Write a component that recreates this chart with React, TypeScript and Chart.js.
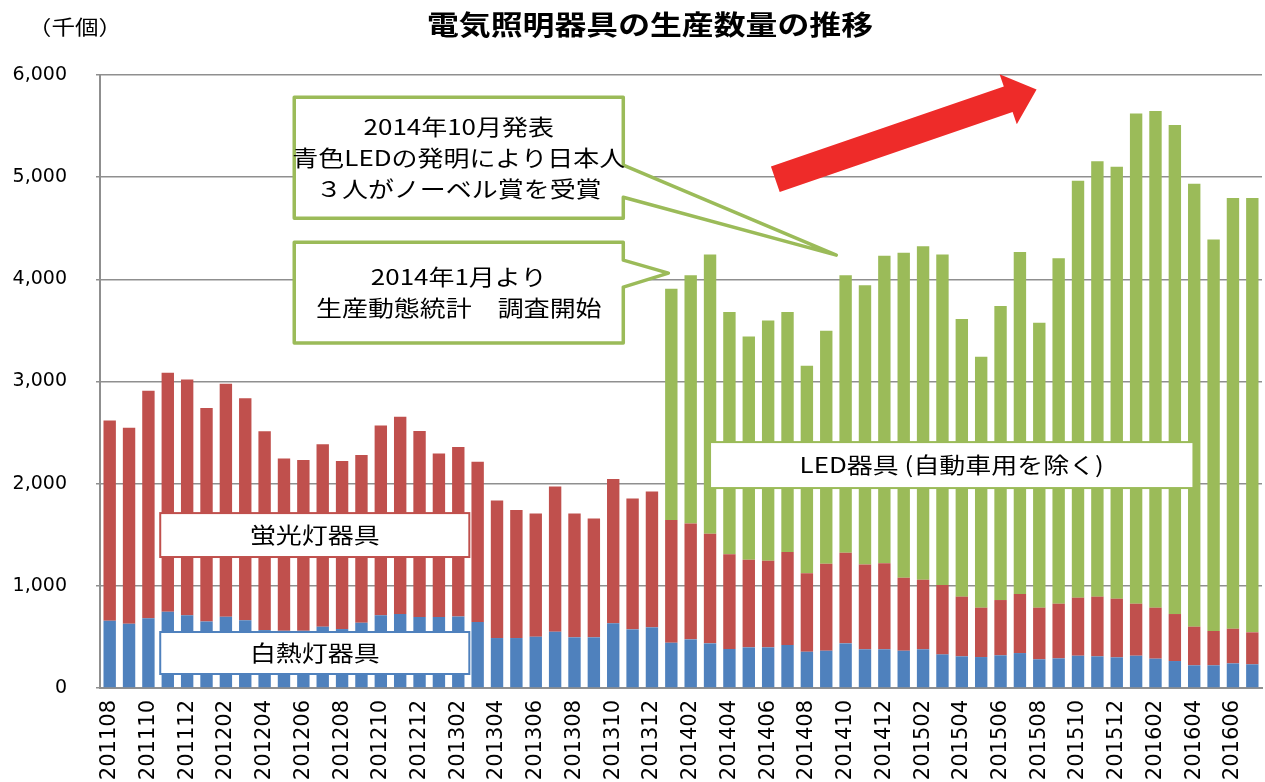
import React, { useEffect, useRef } from 'react';
import { Chart, registerables } from 'chart.js';

Chart.register(...registerables);

// ---------- data ----------
const months = [
  '201108', '201109', '201110', '201111', '201112',
  '201201', '201202', '201203', '201204', '201205', '201206', '201207', '201208', '201209', '201210', '201211', '201212',
  '201301', '201302', '201303', '201304', '201305', '201306', '201307', '201308', '201309', '201310', '201311', '201312',
  '201401', '201402', '201403', '201404', '201405', '201406', '201407', '201408', '201409', '201410', '201411', '201412',
  '201501', '201502', '201503', '201504', '201505', '201506', '201507', '201508', '201509', '201510', '201511', '201512',
  '201601', '201602', '201603', '201604', '201605', '201606', '201607',
];

// 白熱灯器具 (thousand units)
const incandescent = [
  658, 629, 682, 747, 711,
  652, 698, 662, 567, 560, 560, 600, 577, 639, 711, 724, 695,
  695, 701, 646, 489, 489, 502, 551, 496, 496, 633, 574, 594,
  443, 476, 437, 382, 398, 398, 421, 355, 365, 437, 379, 379,
  365, 379, 329, 310, 303, 320, 342, 281, 290, 316, 310, 300,
  316, 287, 264, 222, 222, 241, 232,
];

// 蛍光灯器具 (thousand units)
const fluorescent = [
  1961, 1918, 2227, 2338, 2309,
  2088, 2280, 2173, 1945, 1687, 1671, 1787, 1644, 1641, 1859, 1931, 1820,
  1601, 1657, 1568, 1347, 1253, 1207, 1422, 1213, 1164, 1412, 1282, 1330,
  1201, 1135, 1073, 926, 858, 848, 910, 767, 852, 887, 831, 841,
  715, 681, 679, 584, 483, 541, 578, 505, 535, 568, 584, 574,
  509, 499, 460, 378, 336, 339, 313,
];

// LED器具 (自動車用を除く) (thousand units) – survey starts 2014/01
const led = [
  null, null, null, null, null,
  null, null, null, null, null, null, null, null, null, null, null, null,
  null, null, null, null, null, null, null, null, null, null, null, null,
  2264, 2428, 2732, 2372, 2185, 2352, 2349, 2032, 2280, 2715, 2731, 3012,
  3181, 3264, 3234, 2717, 2456, 2878, 3348, 2789, 3381, 4080, 4263, 4227,
  4799, 4861, 4786, 4335, 3831, 4217, 4252,
];

const seriesNames = ['白熱灯器具', '蛍光灯器具', 'LED器具 (自動車用を除く)'];
const colors = ['#4F81BD', '#C0504D', '#9BBB59'];

const title = '電気照明器具の生産数量の推移';
const unitLabel = '（千個）';

// annotation geometry in data coordinates (x = category index, y = value)
const callouts = [
  {
    lines: ['2014年10月発表', '青色LEDの発明により日本人', '３人がノーベル賞を受賞'],
    x0: 9.53, x1: 26.52, yTop: 5783, yBot: 4599, notchTop: 5117, notchBot: 4804, tipX: 37.52, tipY: 4237,
  },
  {
    lines: ['2014年1月より', '生産動態統計　調査開始'],
    x0: 9.53, x1: 26.52, yTop: 4364, yBot: 3376, notchTop: 4188, notchBot: 3924, tipX: 28.85, tipY: 4061,
  },
];

const seriesBoxes = [
  { text: seriesNames[1], x0: 2.61, x1: 18.57, yTop: 1712, yBot: 1282, color: colors[1] },
  { text: seriesNames[0], x0: 2.61, x1: 18.57, yTop: 548, yBot: 137, color: colors[0] },
  { text: seriesNames[2], x0: 31.0, x1: 55.96, yTop: 2407, yBot: 1957, color: colors[2] },
];

const trendArrow = { x0: 34.37, y0: 4980, x1: 47.86, y1: 5858 };

const JP_FONT = '"Noto Sans CJK JP", "Noto Sans", sans-serif';
const STRETCH = 1.18;

function drawStretchedText(ctx: CanvasRenderingContext2D, text: string, x: number, y: number, font: string) {
  ctx.save();
  ctx.translate(x, y);
  ctx.scale(STRETCH, 1);
  ctx.font = font;
  ctx.fillStyle = '#000';
  ctx.textAlign = 'center';
  ctx.textBaseline = 'middle';
  ctx.fillText(text, 0, 0);
  ctx.restore();
}

const annotationPlugin = {
  id: 'annotations',
  afterDatasetsDraw(chart: any) {
    const ctx: CanvasRenderingContext2D = chart.ctx;
    const xs = chart.scales.x;
    const ys = chart.scales.y;
    const px = (v: number) => xs.getPixelForValue(v);
    const py = (v: number) => ys.getPixelForValue(v);

    // red trend arrow
    {
      const tx = px(trendArrow.x0), ty = py(trendArrow.y0);
      const hx = px(trendArrow.x1), hy = py(trendArrow.y1);
      const dx = hx - tx, dy = hy - ty;
      const len = Math.hypot(dx, dy);
      const ux = dx / len, uy = dy / len;
      const nx = -uy, ny = ux;
      const shaftW = 13.5, headW = 26.5, headL = 30;
      const bx = hx - ux * headL, by = hy - uy * headL;
      ctx.save();
      ctx.fillStyle = '#EE2B29';
      ctx.beginPath();
      ctx.moveTo(tx + nx * shaftW, ty + ny * shaftW);
      ctx.lineTo(bx + nx * shaftW, by + ny * shaftW);
      ctx.lineTo(bx + nx * headW, by + ny * headW);
      ctx.lineTo(hx, hy);
      ctx.lineTo(bx - nx * headW, by - ny * headW);
      ctx.lineTo(bx - nx * shaftW, by - ny * shaftW);
      ctx.lineTo(tx - nx * shaftW, ty - ny * shaftW);
      ctx.closePath();
      ctx.fill();
      ctx.restore();
    }

    // callouts
    callouts.forEach((c) => {
      const l = px(c.x0), r = px(c.x1), t = py(c.yTop), b = py(c.yBot);
      ctx.save();
      ctx.beginPath();
      ctx.moveTo(l, t);
      ctx.lineTo(r, t);
      ctx.lineTo(r, py(c.notchTop));
      ctx.lineTo(px(c.tipX), py(c.tipY));
      ctx.lineTo(r, py(c.notchBot));
      ctx.lineTo(r, b);
      ctx.lineTo(l, b);
      ctx.closePath();
      ctx.fillStyle = '#fff';
      ctx.fill();
      ctx.lineWidth = 3.5;
      ctx.lineJoin = 'round';
      ctx.strokeStyle = colors[2];
      ctx.stroke();
      ctx.restore();
      const cx = (l + r) / 2, cy = (t + b) / 2;
      const lh = 31;
      c.lines.forEach((line, i) => {
        const y = cy + (i - (c.lines.length - 1) / 2) * lh;
        drawStretchedText(ctx, line, cx, y, `22px ${JP_FONT}`);
      });
    });

    // series label boxes
    seriesBoxes.forEach((s) => {
      const l = px(s.x0), r = px(s.x1), t = py(s.yTop), b = py(s.yBot);
      ctx.save();
      ctx.fillStyle = '#fff';
      ctx.fillRect(l, t, r - l, b - t);
      ctx.lineWidth = 2;
      ctx.strokeStyle = s.color;
      ctx.strokeRect(l, t, r - l, b - t);
      ctx.restore();
      drawStretchedText(ctx, s.text, (l + r) / 2, (t + b) / 2, `22px ${JP_FONT}`);
    });
  },
  afterDraw(chart: any) {
    const ctx: CanvasRenderingContext2D = chart.ctx;
    const area = chart.chartArea;
    drawStretchedText(ctx, title, area.left + 550, 25, `bold 27px ${JP_FONT}`);
    drawStretchedText(ctx, unitLabel, area.left - 25, 27, `20px ${JP_FONT}`);
  },
};

export default function App() {
  const ref = useRef<HTMLCanvasElement | null>(null);

  useEffect(() => {
    if (!ref.current) return;
    const chart = new Chart(ref.current, {
      type: 'bar',
      data: {
        labels: months,
        datasets: [
          { label: seriesNames[0], data: incandescent, backgroundColor: colors[0], borderWidth: 0 },
          { label: seriesNames[1], data: fluorescent, backgroundColor: colors[1], borderWidth: 0 },
          { label: seriesNames[2], data: led as any, backgroundColor: colors[2], borderWidth: 0 },
        ],
      },
      options: {
        responsive: false,
        animation: false,
        devicePixelRatio: 1,
        layout: { padding: { top: 75, right: 3, left: 0, bottom: 0 } },
        datasets: { bar: { barPercentage: 0.64, categoryPercentage: 1 } },
        plugins: {
          legend: { display: false },
          tooltip: { enabled: false },
          title: { display: false },
        },
        scales: {
          x: {
            stacked: true,
            grid: { display: false, drawTicks: false },
            border: { display: true, color: '#8f8f8f', width: 2 },
            ticks: {
              autoSkip: false,
              minRotation: 90,
              maxRotation: 90,
              padding: 12,
              color: '#000',
              font: { family: '"DejaVu Sans", sans-serif', size: 21 },
              callback: (_v: any, i: number) => (i % 2 === 0 ? months[i] : ''),
            },
            afterFit: (scale: any) => {
              scale.height = 94;
              scale.paddingLeft = 0;
              scale.paddingRight = 0;
            },
          },
          y: {
            stacked: true,
            min: 0,
            max: 6000,
            grid: { color: '#8f8f8f', lineWidth: 1.5, drawTicks: true, tickLength: 4 },
            border: { display: true, color: '#8f8f8f', width: 2 },
            ticks: {
              stepSize: 1000,
              padding: 29,
              color: '#000',
              font: { family: '"DejaVu Sans", sans-serif', size: 19 },
              callback: (v: any) => Number(v).toLocaleString('en-US'),
            },
            afterFit: (scale: any) => { scale.width = 100; },
          },
        },
      },
      plugins: [annotationPlugin],
    });
    return () => chart.destroy();
  }, []);

  return (
    <div style={{ position: 'fixed', left: 0, top: 0, width: 1265, height: 782, background: '#fff' }}>
      <canvas ref={ref} width={1265} height={782} style={{ display: 'block' }} />
    </div>
  );
}
